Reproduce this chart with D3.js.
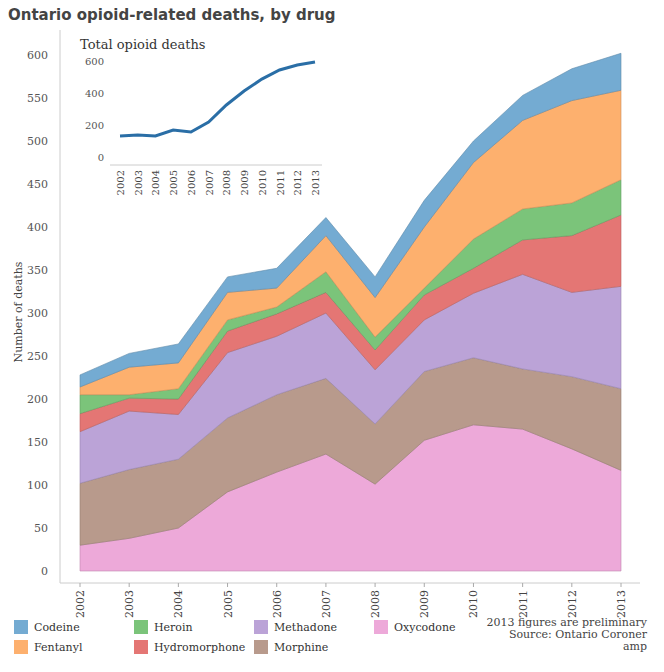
<!DOCTYPE html>
<html><head><meta charset="utf-8">
<script src="https://cdn.jsdelivr.net/npm/d3@7"></script>
<style>body{margin:0;background:#fff;font-family:"DejaVu Serif",serif;}</style>
</head><body><div id="chart"></div>
<script>
const years = [2002,2003,2004,2005,2006,2007,2008,2009,2010,2011,2012,2013];
const oxycodone     = [30, 38, 50, 92,115,136,101,152,170,165,142,117];
const morphine      = [72, 80, 80, 86, 90, 88, 70, 80, 78, 70, 84, 95];
const methadone     = [60, 68, 52, 76, 68, 76, 63, 60, 75,110, 98,119];
const hydromorphone = [21, 15, 18, 25, 26, 24, 23, 29, 29, 40, 66, 83];
const heroin        = [22,  4, 12, 13,  8, 24, 15,  8, 34, 36, 38, 41];
const fentanyl      = [ 9, 32, 30, 32, 22, 42, 46, 71, 89,103,119,104];
const codeine       = [14, 16, 22, 18, 23, 21, 24, 31, 25, 29, 37, 43];
const totalDeaths   = [131,137,131,169,156,219,325,412,487,544,575,594];
const yTicks = [0,50,100,150,200,250,300,350,400,450,500,550,600];
const insetTicks = [0,200,400,600];

const series = [
  {name:"Oxycodone", values:oxycodone, color:"#eda9d9"},
  {name:"Morphine", values:morphine, color:"#b89a8c"},
  {name:"Methadone", values:methadone, color:"#bba3d7"},
  {name:"Hydromorphone", values:hydromorphone, color:"#e47674"},
  {name:"Heroin", values:heroin, color:"#7bc47a"},
  {name:"Fentanyl", values:fentanyl, color:"#fdb06e"},
  {name:"Codeine", values:codeine, color:"#74abd2"}
];
const rows = years.map((y,i)=>{const r={year:y}; series.forEach(s=>r[s.name]=s.values[i]); return r;});

const W=664,H=672;
const svg=d3.select("#chart").append("svg").attr("width",W).attr("height",H);
svg.append("text").attr("x",8).attr("y",20).attr("font-family","'DejaVu Sans',sans-serif")
  .attr("font-weight","bold").attr("font-size",15).attr("fill","#444").text("Ontario opioid-related deaths, by drug");

const x=d3.scalePoint().domain(years).range([80,621]);
const y=d3.scaleLinear().domain([0,600]).range([571,55]);
svg.append("line").attr("x1",60).attr("x2",60).attr("y1",30).attr("y2",583).attr("stroke","#ccc");
svg.append("line").attr("x1",60).attr("x2",640).attr("y1",583).attr("y2",583).attr("stroke","#ccc");
svg.append("g").selectAll("text").data(yTicks).join("text")
  .attr("x",48).attr("y",d=>y(d)+4).attr("text-anchor","end").attr("font-size",11).attr("fill","#555").text(d=>d);
svg.append("text").attr("transform","translate(22,312) rotate(-90)").attr("text-anchor","middle")
  .attr("font-size",11).attr("fill","#444").text("Number of deaths");

const stack=d3.stack().keys(series.map(s=>s.name))(rows);
const area=d3.area().x(d=>x(d.data.year)).y0(d=>y(d[0])).y1(d=>y(d[1]));
svg.append("g").selectAll("path").data(stack).join("path")
  .attr("d",area).attr("fill",(d,i)=>series[i].color).attr("stroke",(d,i)=>d3.color(series[i].color).darker(0.6)).attr("stroke-width",0.6);

svg.append("g").selectAll("text").data(years).join("text")
  .attr("transform",d=>`translate(${x(d)+4},590) rotate(-90)`).attr("text-anchor","end")
  .attr("font-size",11).attr("fill","#444").text(d=>d);
svg.append("g").selectAll("line").data(years).join("line")
  .attr("x1",d=>x(d)).attr("x2",d=>x(d)).attr("y1",583).attr("y2",587).attr("stroke","#aaa");

// inset
svg.append("text").attr("x",80).attr("y",49).attr("font-size",13).attr("fill","#333").text("Total opioid deaths");
const ix=d3.scalePoint().domain(years).range([120,315]);
const iy=d3.scaleLinear().domain([0,600]).range([157,61]);
svg.append("g").selectAll("text").data(insetTicks).join("text")
  .attr("x",104).attr("y",d=>iy(d)+4).attr("text-anchor","end").attr("font-size",10).attr("fill","#555").text(d=>d);
svg.append("line").attr("x1",110).attr("x2",322).attr("y1",165).attr("y2",165).attr("stroke","#ccc");
svg.append("path").datum(totalDeaths).attr("fill","none").attr("stroke","#2a6ea6").attr("stroke-width",3)
  .attr("d",d3.line().x((d,i)=>ix(years[i])).y(d=>iy(d)));
svg.append("g").selectAll("text").data(years).join("text")
  .attr("transform",d=>`translate(${ix(d)+4},170) rotate(-90)`).attr("text-anchor","end")
  .attr("font-size",10).attr("fill","#444").text(d=>d);

// legend
const order=["Codeine","Heroin","Methadone","Oxycodone","Fentanyl","Hydromorphone","Morphine"];
const lg=svg.append("g").selectAll("g").data(order).join("g")
  .attr("transform",(d,i)=>`translate(${14+(i%4)*120},${620+Math.floor(i/4)*20})`);
lg.append("rect").attr("width",14).attr("height",14).attr("fill",d=>series.find(s=>s.name===d).color);
lg.append("text").attr("x",20).attr("y",11).attr("font-size",11).attr("fill","#333").text(d=>d);
const notes=["2013 figures are preliminary","Source: Ontario Coroner","amp"];
svg.append("g").selectAll("text").data(notes).join("text")
  .attr("x",647).attr("y",(d,i)=>626+i*12).attr("text-anchor","end").attr("font-size",11).attr("fill","#444").text(d=>d);
</script></body></html>
